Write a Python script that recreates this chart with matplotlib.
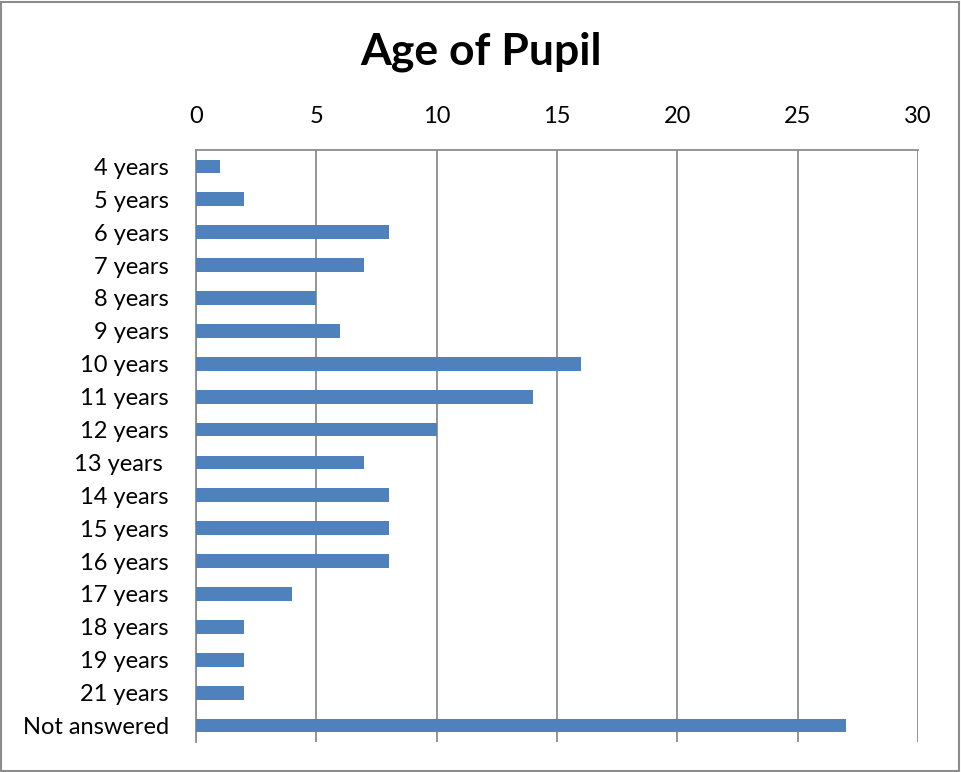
import matplotlib
matplotlib.use("Agg")
import matplotlib.pyplot as plt
from matplotlib.patches import Rectangle

categories = ["4 years", "5 years", "6 years", "7 years", "8 years", "9 years",
              "10 years", "11 years", "12 years", "13 years ", "14 years", "15 years",
              "16 years", "17 years", "18 years", "19 years", "21 years", "Not answered"]
counts = [1, 2, 8, 7, 5, 6, 16, 14, 10, 7, 8, 8, 8, 4, 2, 2, 2, 27]
xticks = [0, 5, 10, 15, 20, 25, 30]

plt.rcParams['font.family'] = ['Lato', 'DejaVu Sans']

W, H = 961, 772
fig = plt.figure(figsize=(W/100, H/100), dpi=100)
fig.patch.set_facecolor('white')
fig.add_artist(Rectangle((1/W, 1/H), 1 - 3/W, 1 - 3/H, transform=fig.transFigure,
                         fill=False, edgecolor='#8c8c8c', linewidth=1.5))

left, right, top, bottom = 196, 918, 150, 742
ax = fig.add_axes([left/W, 1 - bottom/H, (right-left)/W, (bottom-top)/H])

y = list(range(len(categories)))
ax.barh(y, counts, height=0.42, color='#4F81BD', zorder=3)
ax.set_ylim(len(categories) - 0.5, -0.5)
ax.set_xlim(0, 30)
ax.set_yticks(y)
ax.set_yticklabels(categories, fontsize=17)
ax.set_xticks(xticks)
ax.set_xticklabels([str(t) for t in xticks], fontsize=17)
ax.xaxis.tick_top()
ax.tick_params(axis='both', length=0)
ax.tick_params(axis='x', pad=16.5)
ax.tick_params(axis='y', pad=19.5)
ax.grid(axis='x', color='#8c8c8c', linewidth=1.3, zorder=0)
for s in ['bottom', 'right']:
    ax.spines[s].set_visible(False)
for s in ['left', 'top']:
    ax.spines[s].set_color('#8c8c8c')
    ax.spines[s].set_linewidth(1.3)

fig.text(481/W, 1 - 52/H, "Age of Pupil", ha='center', va='center',
         fontsize=32, fontweight='bold')

fig.savefig("out.png", dpi=100)
